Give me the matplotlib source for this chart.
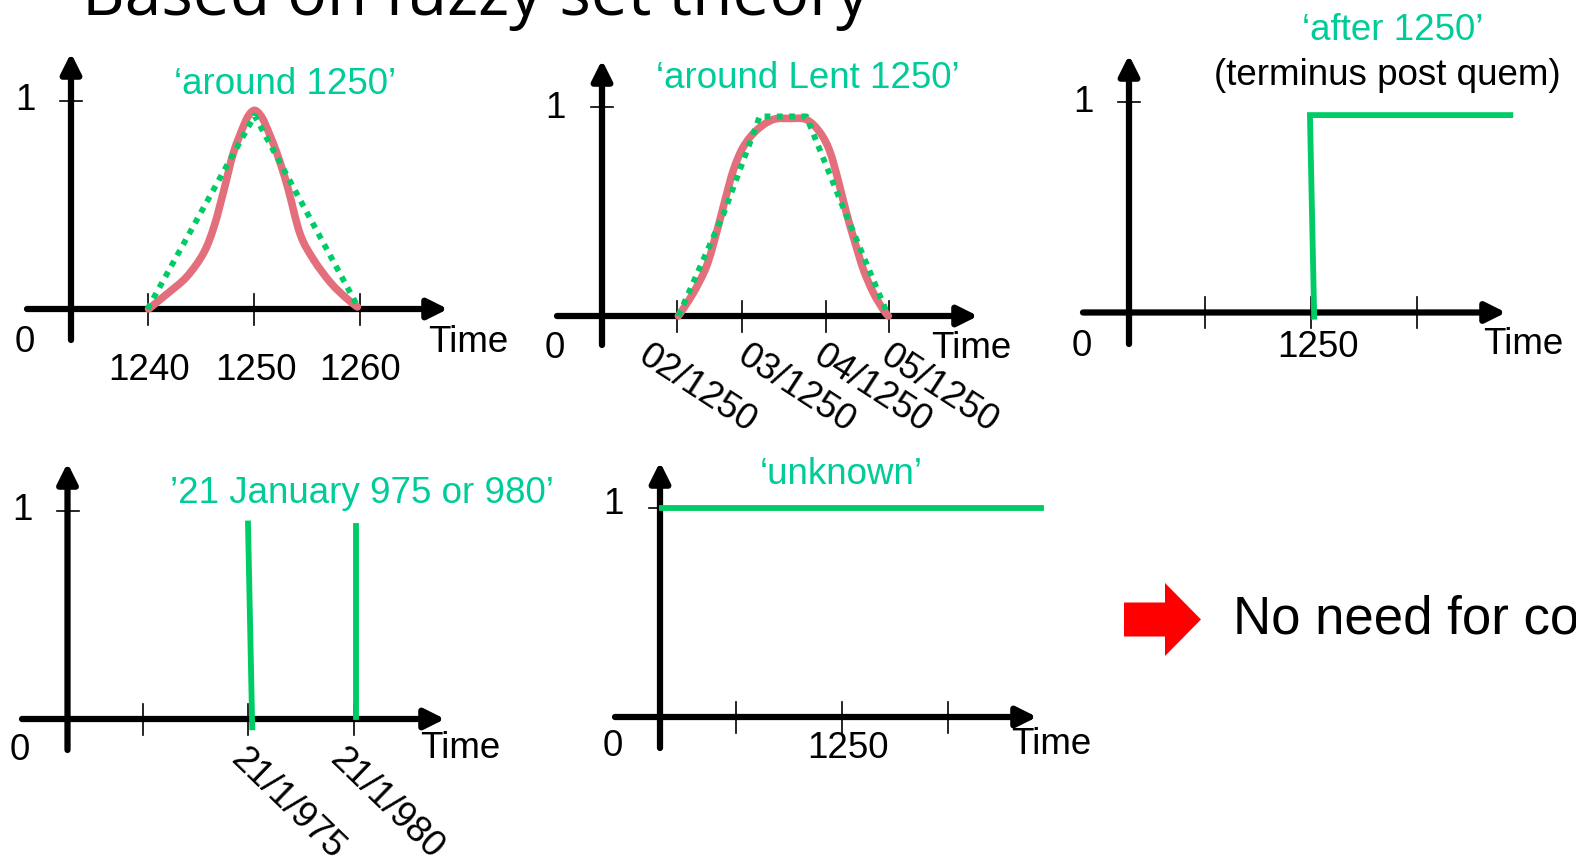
import matplotlib
matplotlib.use('Agg')
import matplotlib.pyplot as plt
from matplotlib.patches import FancyArrow, PathPatch
from matplotlib.path import Path

W, H = 1576, 858
plt.rcParams['font.family'] = ['Liberation Sans', 'DejaVu Sans']

# ---------------- data ----------------
# panel 1: 'around 1250'
around_years_red = [1240.1, 1241.9, 1243.7, 1245.3, 1246.3, 1247.2, 1248.1, 1249.1, 1249.6,
                    1250.1, 1250.6, 1251.1, 1252.2, 1253.2, 1254.4, 1255.7, 1257.3, 1258.8, 1259.8]
around_memb_red = [0.0, 0.075, 0.155, 0.27, 0.40, 0.57, 0.75, 0.885, 0.935,
                   0.955, 0.935, 0.89, 0.75, 0.59, 0.36, 0.235, 0.125, 0.05, 0.01]
around_years_tri = [1240.0, 1250.1, 1259.8]
around_memb_tri = [0.0, 0.93, 0.015]
around_ticks = [1240, 1250, 1260]
around_ticklabels = ['1240', '1250', '1260']

# panel 2: 'around Lent 1250' (x in month units)
lent_x_red = [2.02, 2.23, 2.42, 2.56, 2.68, 2.80, 2.94, 3.13, 3.36, 3.60, 3.83, 4.02,
              4.16, 4.28, 4.40, 4.52, 4.64, 4.78, 4.92, 4.99]
lent_memb_red = [0.0, 0.11, 0.24, 0.40, 0.555, 0.70, 0.81, 0.89, 0.94, 0.945, 0.94, 0.88,
                 0.79, 0.65, 0.49, 0.35, 0.22, 0.11, 0.03, 0.0]
lent_x_trap = [2.02, 2.66, 3.17, 3.83, 4.35, 4.99]
lent_memb_trap = [0.0, 0.49, 0.955, 0.955, 0.52, 0.0]
lent_ticks = [2.0, 2.92, 4.11, 5.0]
lent_ticklabels = ['02/1250', '03/1250', '04/1250', '05/1250']

# panel 3: 'after 1250'
after_years = [1250.3, 1249.9, 1268.8]
after_memb = [-0.02, 0.94, 0.94]
after_ticks = [1240, 1250, 1260]
after_ticklabels = ['', '1250', '']

# panel 4: '21 January 975 or 980'
jan975_years = [975.0, 975.2]
jan975_memb = [0.94, -0.04]
jan980_years = [980.1, 980.1]
jan980_memb = [0.93, 0.01]
jan_ticks = [970, 975, 980]
jan_ticklabels = ['', '21/1/975', '21/1/980']

# panel 5: 'unknown'
unknown_years = [1233.0, 1268.8]
unknown_memb = [1.0, 1.0]
unknown_ticks = [1240, 1250, 1260]
unknown_ticklabels = ['', '1250', '']

# ---------------- style ----------------
TXT_GREEN = '#00CC99'
LINE_GREEN = '#00CC66'
RED_CURVE = '#E46F7C'
FS = 26.5

fig = plt.figure(figsize=(W / 100, H / 100), dpi=100)

# background pixel axes for slide decorations
ax0 = fig.add_axes([0, 0, 1, 1])
ax0.set_xlim(0, W)
ax0.set_ylim(H, 0)
ax0.axis('off')


def smooth_curve(xs, ys):
    """Smooth curve through the given points (Catmull-Rom drawn as cubic Bezier)."""
    pts = list(zip(xs, ys))
    verts = [pts[0]]
    codes = [Path.MOVETO]
    n = len(pts)
    for i in range(n - 1):
        p0 = pts[i - 1] if i > 0 else pts[i]
        p1 = pts[i]
        p2 = pts[i + 1]
        p3 = pts[i + 2] if i + 2 < n else pts[i + 1]
        c1 = (p1[0] + (p2[0] - p0[0]) / 6, p1[1] + (p2[1] - p0[1]) / 6)
        c2 = (p2[0] - (p3[0] - p1[0]) / 6, p2[1] - (p3[1] - p1[1]) / 6)
        verts += [c1, c2, p2]
        codes += [Path.CURVE4] * 3
    return Path(verts, codes)


class Panel:
    def __init__(self, ox, x0, sx, oy, sy):
        self.ox, self.x0, self.sx, self.oy, self.sy = ox, x0, sx, oy, sy
        ax = fig.add_axes([0, 0, 1, 1])
        ax.set_xlim(self.fx(0), self.fx(W))
        ax.set_ylim(self.fy(H), self.fy(0))
        ax.axis('off')
        ax.patch.set_alpha(0)
        self.ax = ax

    def fx(self, px):
        return self.x0 + (px - self.ox) / self.sx

    def fy(self, py):
        return (self.oy - py) / self.sy

    def frame(self, yaxis_px, ybot_px, ytop_px, xl_px, xr_px, ticks, tick_half=15.5):
        ax = self.ax
        kw = dict(arrowstyle='-|>,head_length=0.6,head_width=0.3', lw=4.5, color='black',
                  mutation_scale=20, shrinkA=0, shrinkB=0)
        ax.annotate('', xy=(self.fx(xr_px), 0), xytext=(self.fx(xl_px), 0), arrowprops=kw)
        ax.annotate('', xy=(self.fx(yaxis_px), self.fy(ytop_px)),
                    xytext=(self.fx(yaxis_px), self.fy(ybot_px)), arrowprops=kw)
        for t in ticks:
            ax.plot([t, t], [-tick_half / self.sy, tick_half / self.sy], color='black', lw=1.2,
                    zorder=2)
        ax.plot([self.fx(yaxis_px - 11), self.fx(yaxis_px + 11)], [1, 1], color='black', lw=1.2)

    def text(self, px, py, s, **kw):
        kw.setdefault('ha', 'center')
        kw.setdefault('va', 'center')
        kw.setdefault('fontsize', FS)
        self.ax.text(self.fx(px), self.fy(py + 3), s, **kw)

    def red_curve(self, xs, ys):
        self.ax.add_patch(PathPatch(smooth_curve(xs, ys), fill=False, edgecolor=RED_CURVE,
                                    lw=5.5, capstyle='round', joinstyle='round', zorder=3))


# ---- panel 1
p1 = Panel(ox=147.5, x0=1240, sx=10.6, oy=309, sy=208)
p1.frame(71, 340, 53, 27, 448, around_ticks)
p1.red_curve(around_years_red, around_memb_red)
p1.ax.plot(around_years_tri, around_memb_tri, color=LINE_GREEN, lw=4.2, ls=(0, (1, 1.1)),
           dash_capstyle='butt', zorder=4)
p1.text(25, 98, '1')
p1.text(25, 340, '0')
for t, lab, dpx in zip(around_ticks, around_ticklabels, [1.5, 2, 0.5]):
    p1.ax.text(t + dpx / p1.sx, p1.fy(370), lab, ha='center', va='center', fontsize=FS)
p1.text(468, 340, 'Time')
p1.text(285, 82, '\u2018around 1250\u2019', color=TXT_GREEN)

# ---- panel 2
p2 = Panel(ox=677, x0=2.0, sx=70.67, oy=316, sy=209)
p2.frame(602, 345, 60, 557, 978, lent_ticks)
p2.red_curve(lent_x_red, lent_memb_red)
p2.ax.plot(lent_x_trap, lent_memb_trap, color=LINE_GREEN, lw=4.2, ls=(0, (1, 1.1)),
           dash_capstyle='butt', zorder=4)
p2.text(555, 105, '1')
p2.text(555, 345, '0')
p2.text(971, 345, 'Time')
p2.text(808, 75, '\u2018around Lent 1250\u2019', color=TXT_GREEN)
for t, lab, off in zip(lent_ticks, lent_ticklabels, [-35, -1, -9, -5]):
    p2.ax.text(t + off / p2.sx, p2.fy(353), lab, rotation=-33, rotation_mode='anchor',
               ha='left', va='center', fontsize=FS)

# ---- panel 3
p3 = Panel(ox=1311, x0=1250, sx=10.6, oy=312.5, sy=210)
p3.frame(1129, 344, 55, 1083, 1506, after_ticks)
p3.ax.plot(after_years, after_memb, color=LINE_GREEN, lw=4.2, solid_joinstyle='miter', zorder=3)
p3.text(1083, 100, '1')
p3.text(1082, 344, '0')
p3.text(1318, 345, after_ticklabels[1])
p3.text(1523, 342, 'Time')
p3.text(1393, 28, '\u2018after 1250\u2019', color=TXT_GREEN)
p3.text(1387, 73, '(terminus post quem)', color='black')

# ---- panel 4
p4 = Panel(ox=248, x0=975, sx=21.1, oy=719, sy=208)
p4.frame(67.5, 750, 463, 22, 445, jan_ticks)
p4.ax.plot(jan975_years, jan975_memb, color=LINE_GREEN, lw=4.2, zorder=3)
p4.ax.plot(jan980_years, jan980_memb, color=LINE_GREEN, lw=4.2, zorder=3)
p4.text(22, 508, '1')
p4.text(20, 747, '0')
p4.text(460, 746, 'Time')
p4.text(362, 490, '\u201921 January 975 or 980\u2019', color=TXT_GREEN)
for t, lab, off in zip(jan_ticks[1:], jan_ticklabels[1:], [-12, -19]):
    p4.ax.text(t + off / p4.sx, p4.fy(754), lab, rotation=-44, rotation_mode='anchor',
               ha='left', va='center', fontsize=FS)

# ---- panel 5
p5 = Panel(ox=842, x0=1250, sx=10.6, oy=717, sy=209)
p5.frame(660, 748, 462, 615, 1037, unknown_ticks)
p5.ax.plot(unknown_years, unknown_memb, color=LINE_GREEN, lw=4.2, zorder=3)
p5.text(613, 502, '1')
p5.text(613, 743, '0')
p5.text(848, 746, unknown_ticklabels[1])
p5.text(1051, 742, 'Time')
p5.text(841, 472, '\u2018unknown\u2019', color=TXT_GREEN)

# ---- slide decorations
ax0.add_patch(FancyArrow(1124, 619.5, 77, 0, width=34, head_width=73, head_length=36,
                         length_includes_head=True, color='#FF0000', lw=0))
ax0.text(1233, 634, 'No need for co', fontsize=38, ha='left', va='baseline', color='black')
ax0.text(82, 15, 'Based on fuzzy set theory', fontsize=47.5, ha='left', va='baseline',
         color='black', family=['Open Sans', 'DejaVu Sans'])

fig.savefig('out.png', dpi=100)
